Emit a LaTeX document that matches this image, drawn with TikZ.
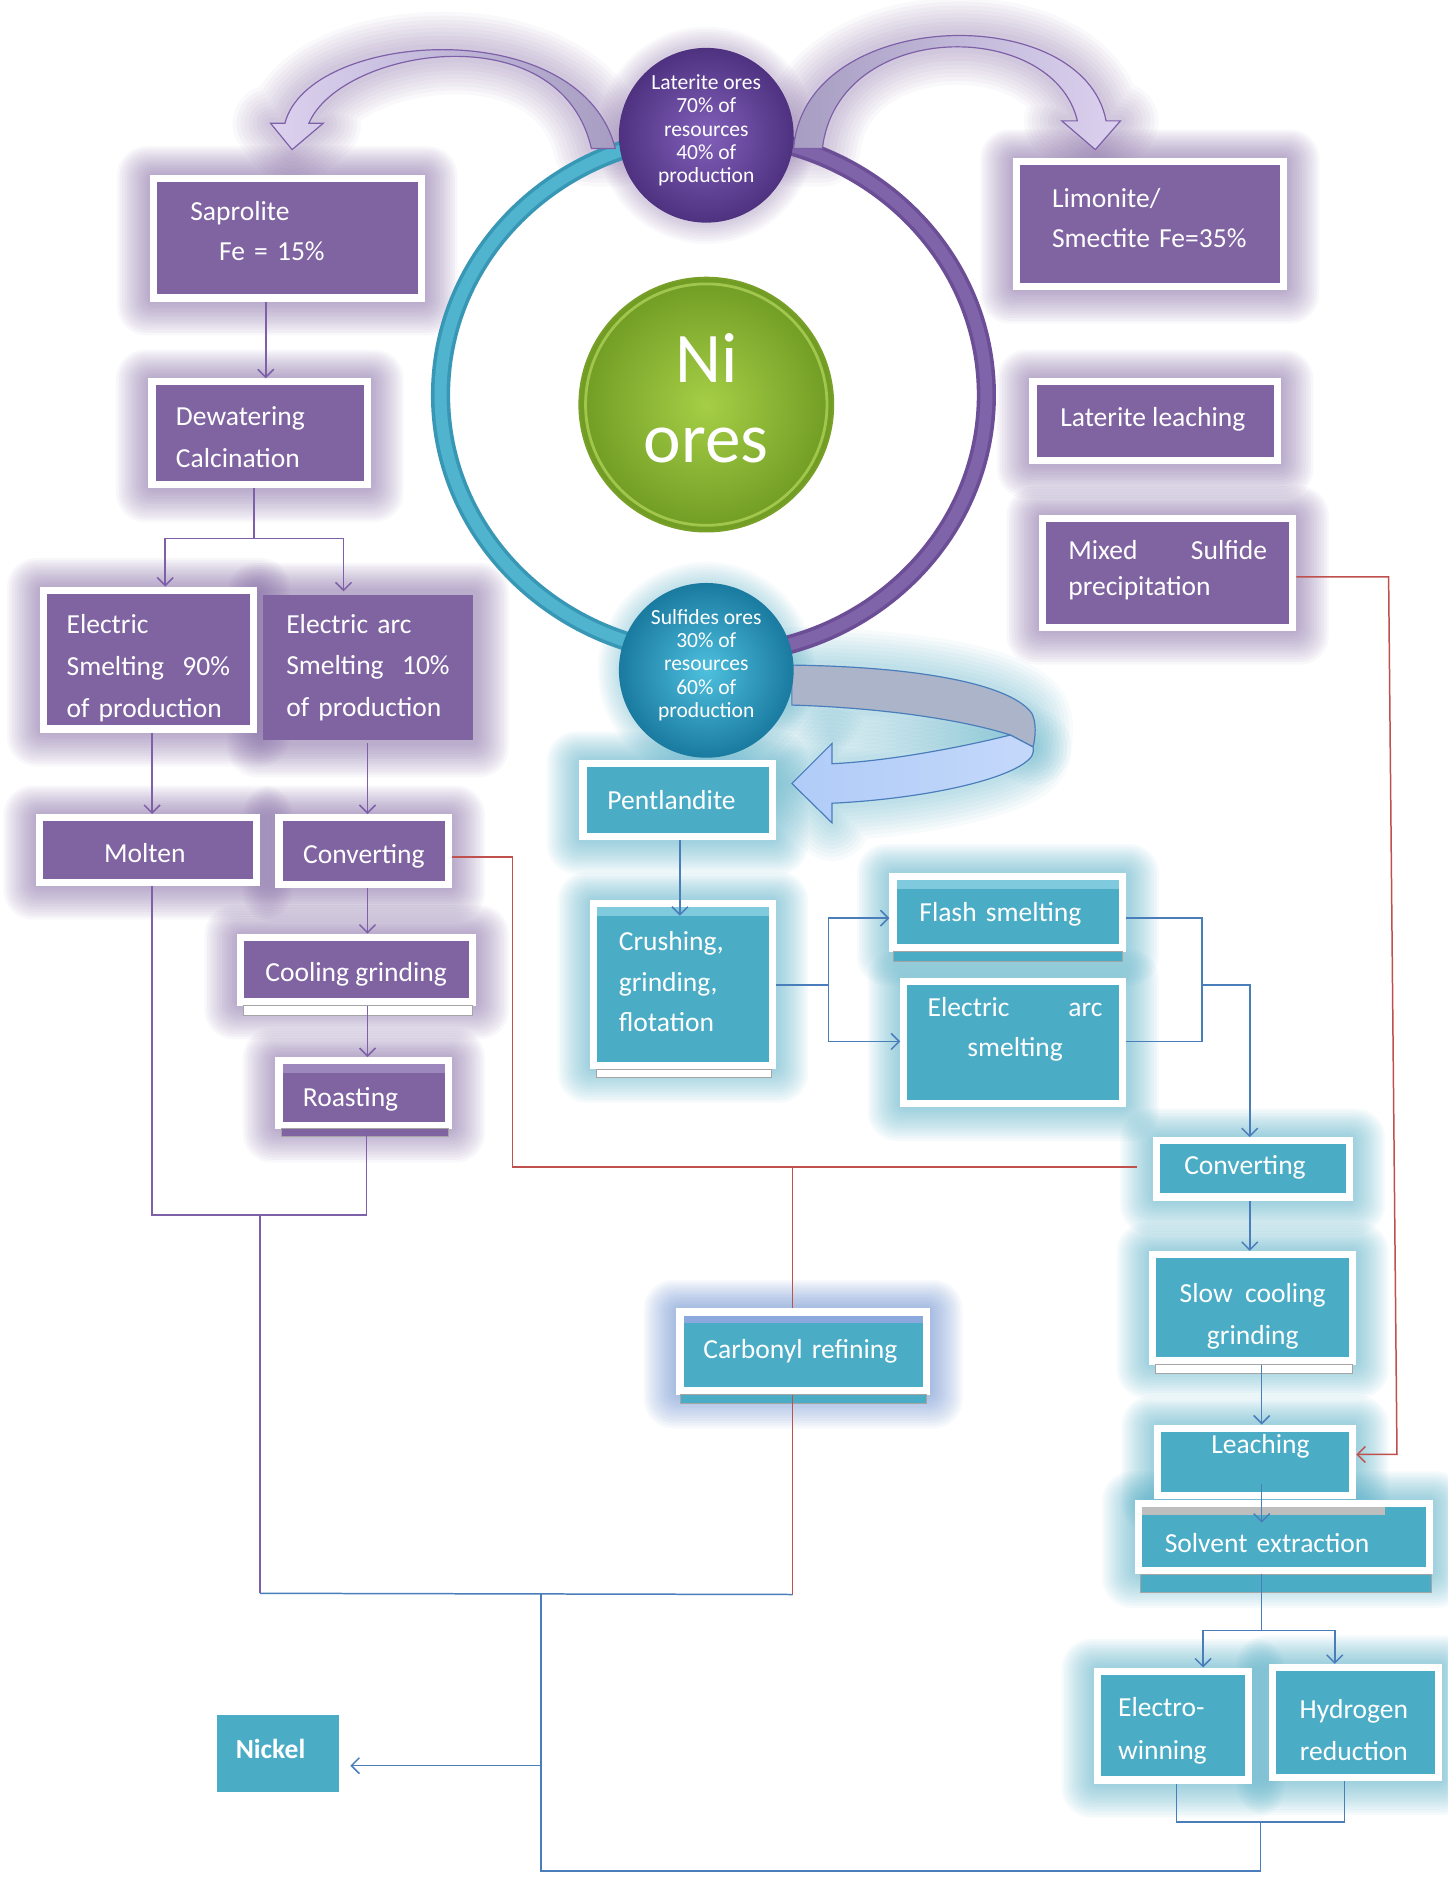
\documentclass[tikz,border=0pt]{standalone}
\usepackage{fontspec}
\setmainfont{Carlito}
\usetikzlibrary{arrows.meta}
\pgfdeclarelayer{bg}
\pgfsetlayers{bg,main}
\definecolor{pfill}{HTML}{8064A2}
\definecolor{bfill}{HTML}{4BACC6}
\definecolor{plinec}{HTML}{7D60A8}
\definecolor{blinec}{HTML}{4A7EBB}
\definecolor{rlinec}{HTML}{C0504D}
\definecolor{pglow}{HTML}{8064A2}
\definecolor{bglow}{HTML}{4BACC6}
\definecolor{cglow}{HTML}{5B85D0}
\definecolor{arrL}{HTML}{DCD2EF}
\definecolor{arrR}{HTML}{A79DC2}
\definecolor{ringbD}{RGB}{56,151,181}
\definecolor{ringbL}{RGB}{80,180,207}
\definecolor{ringpD}{RGB}{107,78,150}
\definecolor{ringpL}{RGB}{128,100,170}
\definecolor{ribgray}{RGB}{172,180,202}
\definecolor{ribL}{RGB}{176,204,248}
\definecolor{ribR}{RGB}{196,216,250}
\definecolor{latIn}{RGB}{130,96,186}
\definecolor{latOut}{RGB}{78,50,128}
\definecolor{niIn}{RGB}{166,206,70}
\definecolor{niOut}{RGB}{112,156,36}
\definecolor{niEdge}{RGB}{120,160,40}
\definecolor{niRim}{RGB}{200,232,110}
\definecolor{sulIn}{RGB}{78,192,222}
\definecolor{sulOut}{RGB}{26,122,160}
\definecolor{ptop}{RGB}{156,136,189}
\definecolor{btop}{RGB}{127,203,221}
\definecolor{ctop}{RGB}{139,169,220}
\definecolor{gtop}{RGB}{190,190,190}
\definecolor{edgegray}{RGB}{165,165,165}
\newcommand\boxfont{\fontsize{13.8}{20.4}\selectfont}
\newcommand\bs[1]{\fontsize{13.8}{#1}\selectfont}
\begin{document}
\begin{tikzpicture}[x=0.6pt,y=-0.6pt,
  pbox/.style={fill=pfill, draw=white, line width=3.6pt, inner sep=0pt},
  bbox/.style={pbox, fill=bfill},
  txt/.style={text=white, font=\boxfont, inner sep=0pt, align=center},
  ltxt/.style={txt, align=left, text width=#1},
  con/.style={line width=0.75pt},
  pl/.style={con, draw=plinec},
  bl/.style={con, draw=blinec},
  rl/.style={con, draw=rlinec},
  arr/.style={-{Straight Barb[length=4pt,width=8pt]}},
  strip/.style={draw=edgegray, line width=0.4pt},
  larrow/.style={insert path={(238,103) .. controls (258,25) and (485,10) .. (514,124) -- (494,124) .. controls (468,10) and (285,40) .. (258,103) -- (270,103) -- (244,125) -- (226,103) -- cycle}},
  rarrow/.style={insert path={(663,124) .. controls (672,5) and (905,0) .. (924,101) -- (936,101) -- (915,125) -- (887,101) -- (900,101) .. controls (880,15) and (700,15) .. (687,124) -- cycle}},
  ribback/.style={insert path={(661.5,555.6) .. controls (770,557) and (845,572) .. (862,596) .. controls (866,604) and (865,616) .. (863,624) -- (844,614) .. controls (800,600) and (730,591) .. (661.5,589) -- cycle}},
  ribfront/.style={insert path={(844,614) .. controls (800,625) and (740,636) .. (695,638) -- (695,621) -- (661.5,654.5) -- (695,687.4) -- (695,671) .. controls (760,668) and (830,655) .. (855,638) .. controls (862,633) and (864,630) .. (863,624) -- cycle}},
]
\begin{pgfonlayer}{bg}
\fill[white] (0,0) rectangle (1209,1568);
\end{pgfonlayer}
\useasboundingbox (0,0) rectangle (1209,1568);

% ring
\draw[line width=9.6pt, draw=ringbD] (596,113) arc[start angle=90, end angle=270, x radius=136.8pt, y radius=130.2pt];
\draw[line width=6pt, draw=ringbL] (596,113) arc[start angle=90, end angle=270, x radius=136.8pt, y radius=130.2pt];
\draw[line width=9.6pt, draw=ringpD] (596,113) arc[start angle=90, end angle=-90, x radius=136.8pt, y radius=130.2pt];
\draw[line width=6pt, draw=ringpL] (596,113) arc[start angle=90, end angle=-90, x radius=136.8pt, y radius=130.2pt];

% glows of big arrows
\begin{pgfonlayer}{bg}
\foreach \w in {38,34,30,26,22,18,14,10,6}{
  \path[draw=pglow, opacity=0.045, line width=\w pt, line join=round, larrow];
  \path[draw=pglow, opacity=0.045, line width=\w pt, line join=round, rarrow];
  \path[draw=bglow, opacity=0.045, line width=\w pt, line join=round, ribback];
  \path[draw=bglow, opacity=0.045, line width=\w pt, line join=round, ribfront];
}
\end{pgfonlayer}

% top curved arrows
\path[draw=plinec, line width=0.6pt, left color=arrL, right color=arrR, larrow];
\path[draw=plinec, line width=0.6pt, left color=arrR, right color=arrL, rarrow];

% bottom ribbon arrow
\path[draw=blinec, line width=0.6pt, fill=ribgray, ribback];
\path[draw=blinec, line width=0.6pt, left color=ribL, right color=ribR, ribfront];

% spheres
\node[circle, minimum size=87.6pt, inner sep=0pt, inner color=latIn, outer color=latOut] (lat) at (590,113) {};
\node[txt, font=\fontsize{10.8}{11.7}\selectfont] (latT) at (590,109) {Laterite ores\\70\% of\\resources\\40\% of\\production};
\node[circle, minimum size=127.2pt, inner sep=0pt, inner color=niIn, outer color=niOut, draw=niEdge, line width=1pt] (ni) at (590,338) {};
\draw[niRim, opacity=0.55, line width=1.4pt] (ni.center) circle[radius=60.5pt];
\node[txt, font=\fontsize{35.7}{40}\selectfont] (niT) at (590,332.5) {Ni\\ores};
\node[circle, minimum size=87.6pt, inner sep=0pt, inner color=sulIn, outer color=sulOut] (sul) at (590,560) {};
\node[txt, font=\fontsize{10.8}{11.7}\selectfont] (sulT) at (590,555.5) {Sulfides ores\\30\% of\\resources\\60\% of\\production};

% purple boxes
\node[pbox, minimum width=134.4pt, minimum height=60pt] (sap) at (240,199) {};
\node[ltxt=97.2pt] (sapT) at (240,193) {Saprolite\\\hspace*{14.4pt}Fe = 15\%};
\node[pbox, minimum width=108pt, minimum height=51.6pt] (dew) at (217,362) {};
\node[ltxt=84pt, font=\bs{21}] (dewT) at (217,365) {Dewatering\\Calcination};
\node[pbox, draw=none, minimum width=105pt, minimum height=72.6pt] (ea10) at (307.5,557.5) {};
\node[ltxt=82pt, font=\bs{20.7}] (ea10T) at (307.5,557.5) {Electric arc\\Smelting\ \ 10\%\\of production};
\node[pbox, minimum width=105.6pt, minimum height=69.6pt] (es90) at (124,551) {};
\node[ltxt=82pt, font=\bs{21}] (es90T) at (124,558) {Electric\\Smelting\ \ 90\%\\of production};
\node[pbox, minimum width=108.6pt, minimum height=32.4pt] (molten) at (123.5,710) {};
\node[txt] (moltenT) at (121,713) {Molten};
\node[pbox, minimum width=85.2pt, minimum height=33.6pt] (convP) at (304,711) {};
\node[txt] (convPT) at (304,715) {Converting};
\node[pbox, minimum width=116.4pt, minimum height=32.4pt] (cool) at (298,810) {};
\node[txt] (coolT) at (297.5,814) {Cooling grinding};
\node[pbox, minimum width=85.2pt, minimum height=32.4pt] (roast) at (304,913) {};
\node[ltxt=61.2pt] (roastT) at (304,918) {Roasting};
\node[pbox, minimum width=133.8pt, minimum height=62.4pt] (lim) at (960.5,187) {};
\node[ltxt=98pt, font=\bs{19.8}] (limT) at (960.5,182) {Limonite/\\Smectite Fe=35\%};
\node[pbox, minimum width=122.4pt, minimum height=39.6pt] (latl) at (965,352) {};
\node[txt] (latlT) at (963,350) {Laterite leaching};
\node[pbox, minimum width=125.4pt, minimum height=54.6pt] (mix) at (975.5,478.5) {};
\node[ltxt=99.6pt, font=\bs{18}] (mixT) at (975.5,476.5) {\makebox[99.6pt]{Mixed\hfill Sulfide}\\precipitation};

% blue boxes
\node[bbox, minimum width=94.8pt, minimum height=36.6pt] (pent) at (566,668.5) {};
\node[txt] (pentT) at (561,668.5) {Pentlandite};
\node[bbox, minimum width=89.4pt, minimum height=81pt] (crush) at (570.5,822.5) {};
\node[ltxt=64.2pt] (crushT) at (570.5,820) {Crushing,\\grinding,\\flotation};
\node[bbox, minimum width=115.2pt, minimum height=36pt] (flash) at (842,762) {};
\node[ltxt=88.8pt] (flashT) at (842,764) {Flash smelting};
\node[bbox, minimum width=109.8pt, minimum height=61.2pt] (earc) at (846.5,871) {};
\node[txt, font=\bs{19.8}] (earcT) at (848,860) {\makebox[87.6pt]{Electric\hfill arc}\\smelting};
\node[bbox, minimum width=96.6pt, minimum height=28.2pt] (convB) at (1046.5,976.5) {};
\node[txt] (convBT) at (1040,975) {Converting};
\node[bbox, minimum width=100.2pt, minimum height=53.4pt] (slow) at (1046.5,1092.5) {};
\node[txt, font=\bs{21}] (slowT) at (1046.5,1099.5) {Slow\ \ cooling\\grinding};
\node[bbox, minimum width=97.8pt, minimum height=33.6pt] (leach) at (1048.5,1221) {};
\node[txt] (leachT) at (1053,1208) {Leaching};
\node[bbox, minimum width=145.8pt, minimum height=33.6pt] (solv) at (1072.5,1284) {};
\node[bbox, minimum width=123.6pt, minimum height=39.6pt] (carb) at (671,1129) {};
\node[bbox, minimum width=75.6pt, minimum height=54.6pt] (elw) at (980,1441.5) {};
\node[ltxt=55.2pt, font=\bs{21.6}] (elwT) at (980,1446) {Electro-\\winning};
\node[bbox, minimum width=83.4pt, minimum height=55.2pt] (hyd) at (1132.5,1439) {};
\node[txt, font=\bs{21}] (hydT) at (1131,1445) {Hydrogen\\reduction};
\node[bbox, draw=none, minimum width=61.2pt, minimum height=38.4pt] (nickel) at (232,1465) {};
\node[txt, font=\boxfont\bfseries] (nickelT) at (226,1461) {Nickel};

% light top strips
\fill[ptop] ([shift={(3.6pt,-3.6pt)}]roast.north west) rectangle ([shift={(-3.6pt,-8pt)}]roast.north east);
\fill[btop] ([shift={(3.6pt,-3.6pt)}]crush.north west) rectangle ([shift={(-3.6pt,-8pt)}]crush.north east);
\fill[btop] ([shift={(3.6pt,-3.6pt)}]flash.north west) rectangle ([shift={(-3.6pt,-8pt)}]flash.north east);
\fill[ctop] ([shift={(3.6pt,-3.6pt)}]carb.north west) rectangle ([shift={(-3.6pt,-7.5pt)}]carb.north east);
\fill[gtop] ([shift={(3.6pt,-3.6pt)}]solv.north west) rectangle ([shift={(-24pt,-7.5pt)}]solv.north east);

% texts drawn over strips
\node[ltxt=119.4pt] (solvT) at (1072.5,1289) {Solvent extraction};
\node[ltxt=100pt] (carbT) at (671,1129) {Carbonyl refining};

% lower strips
\path[strip, fill=bfill] ([xshift=3pt]solv.south west) rectangle ([xshift=-1pt,yshift=-9pt]solv.south east);
\path[strip, fill=bfill] ([xshift=2pt]carb.south west) rectangle ([xshift=-2pt,yshift=-4.5pt]carb.south east);
\path[strip, fill=bfill] ([xshift=2pt]flash.south west) rectangle ([xshift=-2pt,yshift=-5pt]flash.south east);
\path[strip, fill=white] ([xshift=3pt]cool.south west) rectangle ([xshift=-2pt,yshift=-5pt]cool.south east);
\path[strip, fill=white] ([xshift=3pt]slow.south west) rectangle ([xshift=-2pt,yshift=-4.5pt]slow.south east);
\path[strip, fill=white] ([xshift=3pt]crush.south west) rectangle ([xshift=-2pt,yshift=-4pt]crush.south east);
\path[strip, fill=pfill] ([xshift=3pt]roast.south west) rectangle ([xshift=-2pt,yshift=-4pt]roast.south east);

% glows
\begin{pgfonlayer}{bg}
\foreach \n/\c in {sap/pglow,dew/pglow,es90/pglow,ea10/pglow,molten/pglow,convP/pglow,cool/pglow,roast/pglow,lim/pglow,latl/pglow,mix/pglow,pent/bglow,crush/bglow,flash/bglow,earc/bglow,convB/bglow,slow/bglow,leach/bglow,solv/bglow,carb/cglow,elw/bglow,hyd/bglow}{
  \foreach \k in {1,...,13}{
    \fill[\c, opacity=0.05, rounded corners={3pt+\k*0.9pt}] ([shift={({-\k*1.25pt},{\k*1.1pt})}]\n.north west) rectangle ([shift={({\k*1.25pt},{-\k*1.3pt})}]\n.south east);
  }
}
\foreach \k in {1,...,8}{
  \fill[pglow, opacity=0.045] (lat.center) circle[radius={44pt+\k*1.3pt}];
  \fill[bglow, opacity=0.045] (sul.center) circle[radius={44pt+\k*1.3pt}];
}
\end{pgfonlayer}

% purple connectors
\draw[pl,arr] (sap.south -| 222,0) -- (dew.north -| 222,0);
\coordinate (jd) at (212,450);
\draw[pl] (dew.south -| jd) -- (jd);
\draw[pl,arr] (jd) -| (es90.north -| 138,0);
\draw[pl,arr] (jd) -| (ea10.north -| 287,0);
\draw[pl,arr] (es90.south -| 127,0) -- (molten.north -| 127,0);
\draw[pl,arr] (ea10.south -| 307,0) -- (convP.north -| 307,0);
\draw[pl,arr] (convP.south -| 307,0) -- (cool.north -| 307,0);
\draw[pl,arr] (cool.south -| 307,0) -- (roast.north -| 307,0);
\coordinate (jm) at (217,1015);
\draw[pl] (molten.south -| 127,0) |- (jm) -| (roast.south -| 306,0);
\coordinate (jb) at (217,1331);
\draw[pl] (jm) -- (jb);

% red connectors
\coordinate (r1) at (428,716);
\coordinate (jr) at (662,975);
\draw[rl, shorten >=8pt] (convP.east |- r1) -- (r1) |- (convB.west |- jr);
\draw[rl] (jr) -- (carb.north -| jr);
\coordinate (jc2) at (662,1332);
\draw[rl] (carb.south -| jc2) -- (jc2);
\coordinate (r2) at (1160,482);
\coordinate (r3) at (1167,1215);
\draw[rl,arr] (mix.east |- r2) -- (r2) -- (r3) -- (leach.east |- r3);

% blue connectors
\coordinate (cin) at (568,765);
\draw[bl,arr] (pent.south -| cin) -- (cin);
\coordinate (jcr) at (692,823);
\draw[bl] (crush.east |- jcr) -- (jcr);
\draw[bl,arr] (jcr) |- (flash.west |- 0,767);
\draw[bl,arr] (jcr) |- (earc.west |- 0,870);
\coordinate (jf) at (1004,823);
\draw[bl] (flash.east |- 0,767) -| (jf);
\draw[bl] (earc.east |- 0,870) -| (jf);
\draw[bl,arr] (jf) -| (convB.north -| 1044,0);
\draw[bl,arr] (convB.south -| 1044,0) -- (slow.north -| 1044,0);
\draw[bl,arr] (slow.south -| 1054,0) -- (leach.north -| 1054,0);
\coordinate (la) at (1054,1240);
\coordinate (lb) at (1054,1272);
\draw[bl,arr] (la) -- (lb);
\coordinate (js) at (1054,1362);
\draw[bl] (solv.south -| js) -- (js);
\draw[bl,arr] (js) -| (elw.north -| 1005,0);
\draw[bl,arr] (js) -| (hyd.north -| 1115,0);
\coordinate (je) at (1053,1522);
\draw[bl] (elw.south -| 983,0) |- (je) -| (hyd.south -| 1123,0);
\coordinate (jbot) at (1053,1563);
\coordinate (jv) at (452,1331);
\draw[bl] (je) -- (jbot) -| (jv);
\draw[bl] (jb) -- (jc2);
\coordinate (jn) at (452,1475);
\draw[bl,arr,shorten >=4pt] (jn) -- (nickel.east |- jn);
\end{tikzpicture}
\end{document}
